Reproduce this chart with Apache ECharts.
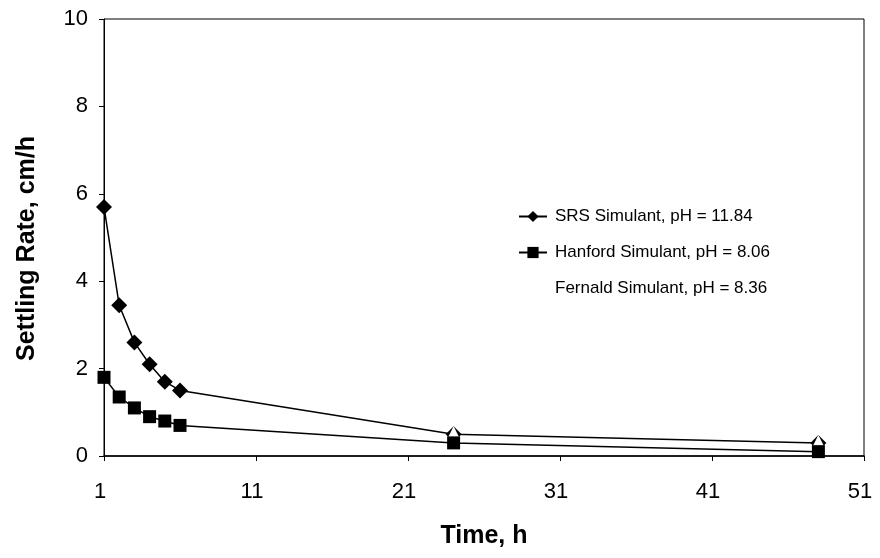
<!DOCTYPE html>
<html>
<head>
<meta charset="utf-8">
<script src="https://cdn.jsdelivr.net/npm/echarts@6/dist/echarts.min.js"></script>
<style>
html,body{margin:0;padding:0;background:#fff;}
#chart{width:880px;height:558px;}
</style>
</head>
<body>
<div id="chart"></div>
<script>
// Data
var times = [1, 2, 3, 4, 5, 6, 24, 48];
var srsValues = [5.7, 3.45, 2.6, 2.1, 1.7, 1.5, 0.5, 0.3];
var hanfordValues = [1.8, 1.35, 1.1, 0.9, 0.8, 0.7, 0.3, 0.1];
var fernaldTimes = [24, 48];
var fernaldValues = [0.5, 0.3];
var xTicks = [1, 11, 21, 31, 41, 51];
var yTicks = [0, 2, 4, 6, 8, 10];
var seriesNames = ['SRS Simulant, pH = 11.84', 'Hanford Simulant, pH = 8.06', 'Fernald Simulant, pH = 8.36'];

function pairs(xs, ys) { return xs.map(function (x, i) { return [x, ys[i]]; }); }

var font = 'Liberation Sans, Arial, sans-serif';
var chart = echarts.init(document.getElementById('chart'), null, {renderer: 'canvas'});
chart.setOption({
  animation: false,
  backgroundColor: '#fff',
  grid: {left: 104, right: 16, top: 19, bottom: 102, show: true, borderColor: '#000', borderWidth: 1},
  legend: {
    orient: 'vertical', left: 513, top: 203,
    itemWidth: 28, itemHeight: 14, itemGap: 19,
    selectedMode: false,
    textStyle: {fontFamily: font, fontSize: 17, color: '#000', padding: [0, 0, 0, 3]},
    data: seriesNames
  },
  xAxis: {
    type: 'value', min: xTicks[0], max: xTicks[xTicks.length - 1],
    name: 'Time, h', nameLocation: 'middle', nameGap: 68,
    nameTextStyle: {fontFamily: font, fontSize: 25, fontWeight: 'bold', color: '#000'},
    axisLine: {show: true, lineStyle: {color: '#000', width: 1.5}},
    axisTick: {show: true, length: 5, lineStyle: {color: '#000'}, customValues: xTicks},
    axisLabel: {fontFamily: font, fontSize: 22, color: '#000', margin: 25, padding: [0, 8, 0, 0], customValues: xTicks},
    splitLine: {show: false}
  },
  yAxis: {
    type: 'value', min: yTicks[0], max: yTicks[yTicks.length - 1], interval: 2,
    name: 'Settling Rate, cm/h', nameLocation: 'middle', nameGap: 64,
    nameTextStyle: {fontFamily: font, fontSize: 25, fontWeight: 'bold', color: '#000', padding: [0, 22, 0, 0]},
    axisLine: {show: true, lineStyle: {color: '#000', width: 1}},
    axisTick: {show: true, inside: false, length: 5, lineStyle: {color: '#000'}},
    axisLabel: {fontFamily: font, fontSize: 22, color: '#000', margin: 16},
    splitLine: {show: false}
  },
  series: [
    {
      name: seriesNames[0], type: 'line', z: 2,
      data: pairs(times, srsValues),
      symbol: 'diamond', symbolSize: 16, showAllSymbol: true,
      itemStyle: {color: '#000'}, lineStyle: {color: '#000', width: 1.5}
    },
    {
      name: seriesNames[2], type: 'line', z: 3,
      data: pairs(fernaldTimes, fernaldValues),
      symbol: 'triangle', symbolSize: 16,
      itemStyle: {color: '#fff', borderWidth: 0}, lineStyle: {color: '#fff', width: 0, opacity: 0}
    },
    {
      name: seriesNames[1], type: 'line', z: 4,
      data: pairs(times, hanfordValues),
      symbol: 'rect', symbolSize: 13, showAllSymbol: true,
      itemStyle: {color: '#000'}, lineStyle: {color: '#000', width: 1.5}
    }
  ]
});
</script>
</body>
</html>
